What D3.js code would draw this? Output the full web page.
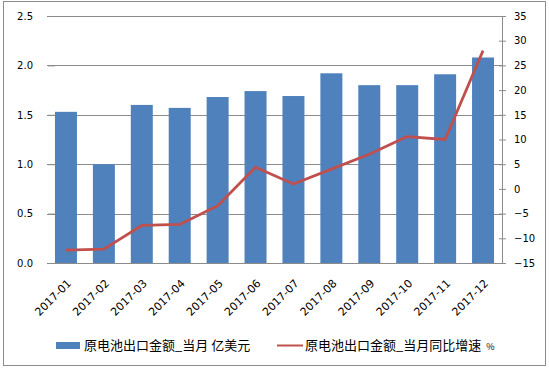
<!DOCTYPE html>
<html>
<head>
<meta charset="utf-8">
<script src="https://cdn.jsdelivr.net/npm/d3@7"></script>
<style>
  body { margin: 0; background: #fff; }
  svg { display: block; }
</style>
</head>
<body>
<div id="chart"></div>
<script>
const months = ["2017-01","2017-02","2017-03","2017-04","2017-05","2017-06","2017-07","2017-08","2017-09","2017-10","2017-11","2017-12"]
const amount = [1.53, 1.0, 1.6, 1.57, 1.68, 1.74, 1.69, 1.92, 1.8, 1.8, 1.91, 2.08]
const growth = [-12.4, -12.2, -7.4, -7.2, -3.4, 4.4, 1.0, 4.0, 7.0, 10.6, 10.0, 28.0]
const leftTicks = [0, 0.5, 1.0, 1.5, 2.0, 2.5]
const rightTicks = [-15, -10, -5, 0, 5, 10, 15, 20, 25, 30, 35]
const barName = "原电池出口金额_当月 亿美元"
const lineName = "原电池出口金额_当月同比增速"

const width = 549, height = 369
const plot = { left: 47, right: 502, top: 16, bottom: 263 }
const tickFont = "DejaVu Sans, Verdana, sans-serif"
const cjkFont = "'Noto Sans CJK SC', sans-serif"

const svg = d3.select("#chart").append("svg")
  .attr("width", width).attr("height", height)

// outer frame
svg.append("rect")
  .attr("x", 3.5).attr("y", 1.5)
  .attr("width", 542).attr("height", 364)
  .attr("fill", "#fff").attr("stroke", "#8c8c8c")

const x = d3.scaleBand().domain(months).range([plot.left, plot.right]).paddingInner(0.42).paddingOuter(0.21)
const yL = d3.scaleLinear().domain([0, 2.5]).range([plot.bottom, plot.top])
const yR = d3.scaleLinear().domain([-15, 35]).range([plot.bottom, plot.top])

// gridlines
svg.append("g")
  .selectAll("line")
  .data(leftTicks)
  .enter()
  .append("line")
  .attr("x1", plot.left).attr("x2", plot.right)
  .attr("y1", d => Math.round(yL(d)) + 0.5).attr("y2", d => Math.round(yL(d)) + 0.5)
  .attr("stroke", "#8c8c8c")

// bars
svg.append("g")
  .selectAll("rect")
  .data(months)
  .enter()
  .append("rect")
  .attr("x", d => x(d))
  .attr("width", x.bandwidth())
  .attr("y", (d, i) => yL(amount[i]))
  .attr("height", (d, i) => yL(0) - yL(amount[i]))
  .attr("fill", "#4f81bd")

// line
const line = d3.line()
  .x((d, i) => x(months[i]) + x.bandwidth() / 2)
  .y(d => yR(d))

svg.append("path")
  .datum(growth)
  .attr("d", line)
  .attr("fill", "none")
  .attr("stroke", "#c0504d")
  .attr("stroke-width", 2.8)
  .attr("stroke-linejoin", "round")

// left axis
const leftAxis = svg.append("g")
  .attr("transform", `translate(${plot.left},0)`)
  .call(d3.axisLeft(yL).tickValues(leftTicks).tickFormat(d3.format(".1f")).tickSize(0).tickPadding(14))
leftAxis.select(".domain").remove()
leftAxis.selectAll("text").attr("font-family", tickFont).attr("font-size", 10).attr("fill", "#000")
leftAxis.selectAll(".tick").append("line")
  .attr("x1", 1).attr("x2", 8).attr("stroke", "#8c8c8c")

// right axis
const rightAxis = svg.append("g")
  .attr("transform", `translate(${plot.right},0)`)
  .call(d3.axisRight(yR).tickValues(rightTicks).tickSize(0).tickPadding(12))
rightAxis.select(".domain").attr("stroke", "#8c8c8c").attr("d", `M0.5,${plot.top}V${plot.bottom}`)
rightAxis.selectAll("text").attr("font-family", tickFont).attr("font-size", 10).attr("fill", "#000")
rightAxis.selectAll(".tick").append("line")
  .attr("x1", -3).attr("x2", 4).attr("stroke", "#8c8c8c")

// bottom axis
const bottomAxis = svg.append("g")
  .attr("transform", `translate(0,${plot.bottom})`)
  .call(d3.axisBottom(x).tickSize(0).tickPadding(0))
bottomAxis.select(".domain").remove()
bottomAxis.selectAll("text")
  .attr("font-family", tickFont).attr("font-size", 11).attr("fill", "#000")
  .attr("text-anchor", "end")
  .attr("dy", 0).attr("y", 0)
  .attr("transform", "translate(6,21) rotate(-45)")

// legend
const legend = svg.append("g").attr("font-family", cjkFont).attr("font-size", 13).attr("fill", "#000")
legend.append("rect").attr("x", 56).attr("y", 342).attr("width", 24).attr("height", 7).attr("fill", "#4f81bd")
legend.append("text").attr("x", 84).attr("y", 350).text(barName)
legend.append("line").attr("x1", 277).attr("x2", 303).attr("y1", 345.5).attr("y2", 345.5)
  .attr("stroke", "#c0504d").attr("stroke-width", 2)
const lt = legend.append("text").attr("x", 305).attr("y", 350).text(lineName)
lt.append("tspan").attr("font-size", 9).attr("dx", 5).text("%")
</script>
</body>
</html>
